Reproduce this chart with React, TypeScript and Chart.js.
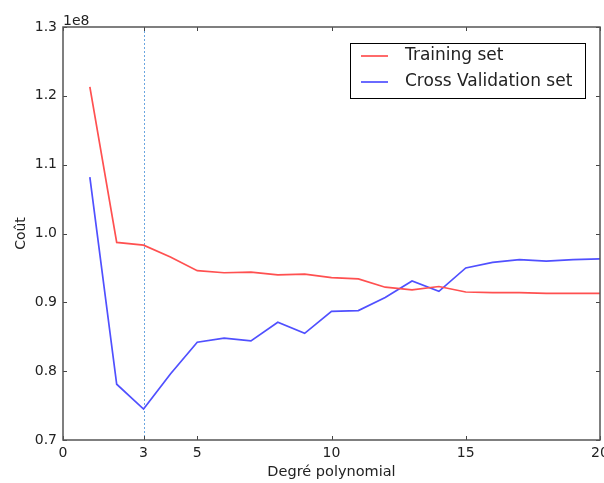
import React, { useEffect, useRef } from "react";
import { Chart, registerables } from "chart.js";

Chart.register(...registerables);

// Polynomial degree on x, cost (in units of 1e8) on y
const degrees = [1, 2, 3, 4, 5, 6, 7, 8, 9, 10, 11, 12, 13, 14, 15, 16, 17, 18, 19, 20];
const trainingCost = [
  1.213, 0.987, 0.983, 0.966, 0.946, 0.943, 0.944, 0.94, 0.941, 0.936,
  0.934, 0.922, 0.918, 0.923, 0.915, 0.914, 0.914, 0.913, 0.913, 0.913,
];
const crossValidationCost = [
  1.082, 0.781, 0.745, 0.796, 0.842, 0.848, 0.844, 0.871, 0.855, 0.887,
  0.888, 0.907, 0.931, 0.916, 0.95, 0.958, 0.962, 0.96, 0.962, 0.963,
];
const xTickValues = [0, 3, 5, 10, 15, 20];
const yTickValues = [0.7, 0.8, 0.9, 1.0, 1.1, 1.2, 1.3];
const chosenDegree = 3;
const seriesLabels = ["Training set", "Cross Validation set"];
const seriesColors = ["#ff5050", "#5050ff"];

const FONT = "'DejaVu Sans', sans-serif";

const framePlugin = {
  id: "frameAndExtras",
  beforeDatasetsDraw(chart: any) {
    const { ctx, chartArea, scales } = chart;
    const x = scales.x.getPixelForValue(chosenDegree);
    ctx.save();
    ctx.strokeStyle = "#6aa6e0";
    ctx.lineWidth = 1;
    ctx.setLineDash([2, 2]);
    ctx.beginPath();
    ctx.moveTo(Math.round(x) + 0.5, chartArea.top);
    ctx.lineTo(Math.round(x) + 0.5, chartArea.bottom);
    ctx.stroke();
    ctx.restore();
  },
  afterDraw(chart: any) {
    const { ctx, chartArea, scales } = chart;
    const { left, right, top, bottom } = chartArea;
    ctx.save();
    // inward ticks on all four sides
    ctx.strokeStyle = "#444";
    ctx.lineWidth = 1;
    const tl = 4;
    ctx.beginPath();
    for (const v of xTickValues) {
      const px = Math.round(scales.x.getPixelForValue(v)) + 0.5;
      ctx.moveTo(px, bottom);
      ctx.lineTo(px, bottom - tl);
      ctx.moveTo(px, top);
      ctx.lineTo(px, top + tl);
    }
    for (const v of yTickValues) {
      const py = Math.round(scales.y.getPixelForValue(v)) + 0.5;
      ctx.moveTo(left, py);
      ctx.lineTo(left + tl, py);
      ctx.moveTo(right, py);
      ctx.lineTo(right - tl, py);
    }
    ctx.stroke();
    // frame
    ctx.strokeStyle = "#555";
    ctx.lineWidth = 1.5;
    ctx.strokeRect(left, top, right - left, bottom - top);
    // offset text
    ctx.fillStyle = "#222";
    ctx.font = `14px ${FONT}`;
    ctx.textAlign = "left";
    ctx.textBaseline = "alphabetic";
    ctx.fillText("1e8", left, top - 2);
    // legend
    const bx = 350, by = 43, bw = 235, bh = 55;
    ctx.fillStyle = "#fff";
    ctx.fillRect(bx, by, bw, bh);
    ctx.strokeStyle = "#000";
    ctx.lineWidth = 1;
    ctx.strokeRect(bx + 0.5, by + 0.5, bw, bh);
    ctx.font = `17px ${FONT}`;
    ctx.textBaseline = "middle";
    chart.data.datasets.forEach((ds: any, i: number) => {
      const ry = by + 13 + i * 26;
      ctx.strokeStyle = ds.borderColor;
      ctx.lineWidth = 1.7;
      ctx.beginPath();
      ctx.moveTo(bx + 11, ry);
      ctx.lineTo(bx + 38, ry);
      ctx.stroke();
      ctx.fillStyle = "#222";
      ctx.fillText(ds.label, bx + 55, ry);
    });
    ctx.restore();
  },
};

export default function App() {
  const canvasRef = useRef<HTMLCanvasElement>(null);

  useEffect(() => {
    document.body.style.margin = "0";
    const chart = new Chart(canvasRef.current!, {
      type: "line",
      data: {
        datasets: [
          {
            label: seriesLabels[0],
            data: degrees.map((d, i) => ({ x: d, y: trainingCost[i] })),
            borderColor: seriesColors[0],
            borderWidth: 1.7,
            pointRadius: 0,
            tension: 0,
          },
          {
            label: seriesLabels[1],
            data: degrees.map((d, i) => ({ x: d, y: crossValidationCost[i] })),
            borderColor: seriesColors[1],
            borderWidth: 1.7,
            pointRadius: 0,
            tension: 0,
          },
        ],
      },
      options: {
        animation: false,
        responsive: false,
        maintainAspectRatio: false,
        layout: { padding: { left: 13, right: 4, top: 27, bottom: 0 } },
        plugins: { legend: { display: false }, tooltip: { enabled: false } },
        scales: {
          x: {
            type: "linear",
            min: 0,
            max: 20,
            grid: { display: false, drawTicks: false },
            border: { display: false },
            afterBuildTicks: (s: any) => {
              s.ticks = xTickValues.map((v) => ({ value: v }));
            },
            afterFit: (s: any) => {
              s.height = 43;
              s.paddingLeft = 0;
              s.paddingRight = 0;
            },
            ticks: {
              padding: 5,
              color: "#222",
              font: { family: FONT, size: 14 },
              maxRotation: 0,
              autoSkip: false,
              callback: (v: any) => String(v),
            },
            title: {
              display: true,
              text: "Degré polynomial",
              color: "#222",
              font: { family: FONT, size: 14.5 },
              padding: { top: 1, bottom: 2 },
            },
          },
          y: {
            type: "linear",
            min: 0.7,
            max: 1.3,
            grid: { display: false, drawTicks: false },
            border: { display: false },
            afterBuildTicks: (s: any) => {
              s.ticks = yTickValues.map((v) => ({ value: v }));
            },
            afterFit: (s: any) => {
              s.width = 50;
              s.paddingTop = 0;
              s.paddingBottom = 0;
            },
            ticks: {
              padding: 6,
              color: "#222",
              font: { family: FONT, size: 14 },
              autoSkip: false,
              callback: (v: any) => Number(v).toFixed(1),
            },
            title: {
              display: true,
              text: "Coût",
              color: "#222",
              font: { family: FONT, size: 14 },
              padding: { top: 0, bottom: 0 },
            },
          },
        },
      },
      plugins: [framePlugin],
    });
    return () => chart.destroy();
  }, []);

  return (
    <div style={{ width: 604, height: 483, background: "#fff" }}>
      <canvas ref={canvasRef} width={604} height={483} style={{ display: "block" }} />
    </div>
  );
}
